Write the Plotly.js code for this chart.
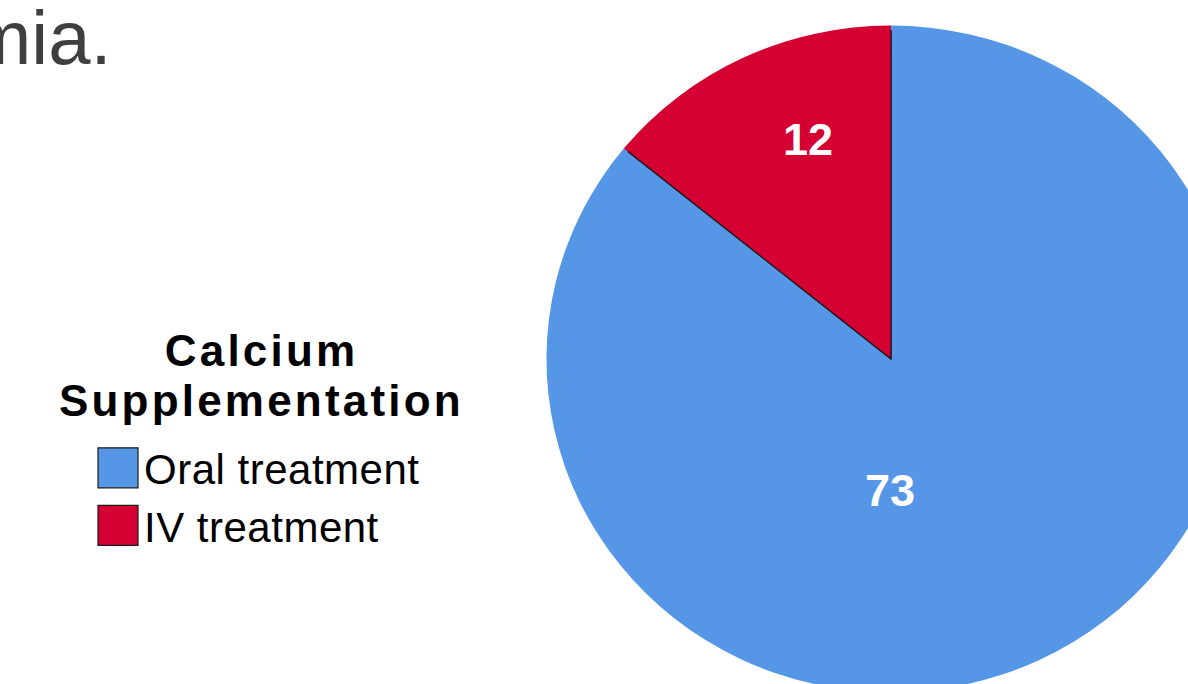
<!DOCTYPE html>
<html><head><meta charset="utf-8">
<script src="https://cdn.plot.ly/plotly-3.0.1.min.js"></script>
<style>
html,body{margin:0;padding:0;overflow:hidden;background:#fff}
#chart{width:1300px;height:720px}
.annotation[data-index="1"] text,.annotation[data-index="2"] text{letter-spacing:3.2px}
.legendtext{letter-spacing:0.5px}
</style>
</head><body><div id="chart"></div>
<script>
// ---- data ----
const categories = ['Oral treatment', 'IV treatment'];
const counts = [73, 12];
const sliceColors = ['#5596E6', '#D50032'];
const legendTitleLines = ['Calcium', 'Supplementation'];
const headingFragment = 'mia.';

// ---- layout helpers (pixel -> paper) ----
const W = 1300, H = 720;
const px = x => x / W;
const py = y => 1 - y / H;
const cx = 891, cy = 359, r = 338;          // drawn circle
const sx = 343 / r, sy = 332 / r;           // slight oval, as in the reference
const FONT = 'Liberation Sans, Arial, sans-serif';

const pie = {
  type: 'pie',
  labels: categories,
  values: counts,
  sort: false,
  direction: 'clockwise',
  rotation: 0,
  textinfo: 'none',
  hoverinfo: 'label+value',
  marker: {colors: sliceColors, line: {color: '#1a1a1a', width: 1.2}},
  domain: {x: [px(cx - r), px(cx + r)], y: [py(cy + r), py(cy - r)]},
  showlegend: true
};
// thin ring in slice colours that hides the outline on the outer arc
const rim = {
  type: 'pie',
  labels: categories,
  values: counts,
  sort: false,
  direction: 'clockwise',
  rotation: 0,
  textinfo: 'none',
  hoverinfo: 'skip',
  hole: 0.985,
  marker: {colors: sliceColors, line: {width: 0}},
  domain: {x: [px(cx - r - 1.5), px(cx + r + 1.5)], y: [py(cy + r + 1.5), py(cy - r - 1.5)]},
  showlegend: false
};

// value labels placed in the slices
const labelPos = [[890, 490], [808, 140]];
const valueAnnots = counts.map((v, i) => ({
  text: String(v), xref: 'paper', yref: 'paper',
  x: px(labelPos[i][0]), y: py(labelPos[i][1]),
  xanchor: 'center', yanchor: 'middle', showarrow: false,
  font: {family: FONT, size: 45, color: '#ffffff', weight: 'bold'}
}));

const titleY = [350, 400];
const titleAnnots = legendTitleLines.map((t, i) => ({
  text: t, xref: 'paper', yref: 'paper', x: px(261), y: py(titleY[i]),
  xanchor: 'center', yanchor: 'middle', align: 'center', showarrow: false,
  font: {family: FONT, size: 44, color: '#000000', weight: 'bold'}
}));

const layout = {
  width: W, height: H,
  margin: {l: 0, r: 0, t: 0, b: 0},
  paper_bgcolor: '#ffffff',
  showlegend: true,
  legend: {
    x: px(92), xanchor: 'left', y: py(434), yanchor: 'top',
    orientation: 'v', itemwidth: 42,
    font: {family: FONT, size: 42, color: '#000000'},
    bgcolor: 'rgba(0,0,0,0)', borderwidth: 0, tracegroupgap: 0
  },
  annotations: [
    {text: headingFragment, xref: 'paper', yref: 'paper', x: px(114), y: py(37),
     xanchor: 'right', yanchor: 'middle', showarrow: false,
     font: {family: FONT, size: 76, color: '#3f3f3f'}}
  ].concat(titleAnnots, valueAnnots)
};

Plotly.newPlot('chart', [pie, rim], layout, {displayModeBar: false, staticPlot: true}).then(() => {
  document.querySelectorAll('g.pielayer').forEach(g => {
    g.setAttribute('transform',
      `translate(${cx},${cy}) scale(${sx},${sy}) translate(${-cx},${-cy})`);
  });
  document.querySelectorAll('.legendpoints path.legendpie').forEach(p => {
    p.setAttribute('d', 'M20,20H-20V-20H20Z');
  });
});
</script>
</body></html>
